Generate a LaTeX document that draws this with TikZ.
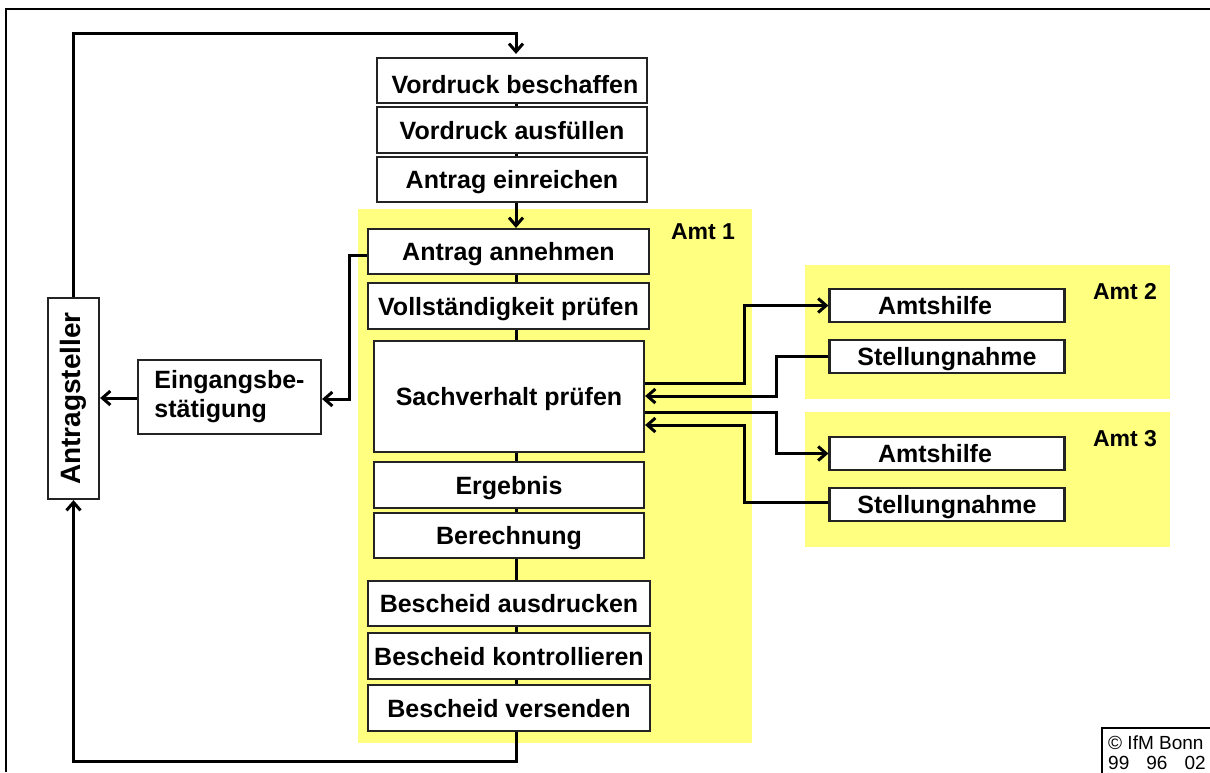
\documentclass[tikz,border=0pt]{standalone}
\usepackage{fontspec}
\setmainfont{Liberation Sans}
\usetikzlibrary{arrows.meta,calc}
\definecolor{amtyellow}{RGB}{255,255,128}
\definecolor{boxline}{RGB}{35,35,35}
\begin{document}
\begin{tikzpicture}[x=1pt,y=-1pt,
  box/.style={draw=boxline, line width=2.2pt, fill=white, inner sep=0pt,
    font=\bfseries\fontsize{25}{29}\selectfont},
  line1/.style={box, text height=18pt, text depth=0pt},
  wbox/.style={line1, minimum width=270pt, minimum height=45pt},
  nbox/.style={line1, minimum width=235pt, minimum height=33pt},
  conn/.style={line width=3pt, line join=miter},
  arr/.style={conn, -{Straight Barb[length=8pt,width=14pt]}},
  amt/.style={font=\bfseries\fontsize{23}{26}\selectfont, inner sep=0pt}
]
\path[use as bounding box, clip] (0,0) rectangle (1210,772);
\fill[white] (0,0) rectangle (1210,772);

% outer frame
\draw[line width=1.6pt] (6,772) -- (6,9) -- (1210,9);

% yellow office areas
\fill[amtyellow] (358,209) rectangle (752,743);
\fill[amtyellow] (805,265) rectangle (1170,399);
\fill[amtyellow] (805,412) rectangle (1170,547);
\node[amt] (amt1) at (703,232) {Amt 1};
\node[amt] (amt2) at (1125,292) {Amt 2};
\node[amt] (amt3) at (1125,439) {Amt 3};

% helper coordinates
\coordinate (spine) at (516,0);
\coordinate (top) at (0,33);
\coordinate (bot) at (0,761);
\coordinate (xa) at (744,0);
\coordinate (xb) at (776,0);
\coordinate (xc) at (349,0);

% main chain
\node[wbox] (vb) at (512,80.5) {\hspace*{6pt}\raisebox{-4pt}{Vordruck beschaffen}};
\node[wbox, minimum height=46pt] (va) at (512,130) {Vordruck ausfüllen};
\node[wbox] (ae) at (512,179.5) {Antrag einreichen};
\node[wbox, minimum width=281pt] (aa) at (508.5,251.5) {Antrag annehmen};
\node[wbox, minimum width=281pt, minimum height=46pt] (vp) at (508.5,306) {Vollständigkeit prüfen};
\node[wbox, minimum height=111pt] (sp) at (509,396.5) {Sachverhalt prüfen};
\node[wbox, minimum height=46pt] (erg) at (509,485) {Ergebnis};
\node[wbox] (ber) at (509,535.5) {Berechnung};
\node[wbox, minimum width=282pt] (bau) at (509,603.5) {Bescheid ausdrucken};
\node[wbox, minimum width=282pt, minimum height=46pt] (bko) at (509,656) {Bescheid kontrollieren};
\node[wbox, minimum width=282pt, minimum height=46pt] (bve) at (509,708) {Bescheid versenden};

% other offices
\node[nbox] (ah2) at (947,305.5) {\hspace*{-24pt}Amtshilfe};
\node[nbox] (st2) at (947,356.5) {Stellungnahme};
\node[nbox] (ah3) at (947,453.5) {\hspace*{-24pt}Amtshilfe};
\node[nbox] (st3) at (947,504.5) {Stellungnahme};

% applicant side
\node[box, minimum width=51pt, minimum height=201pt] (ant) at (73.5,398.5)
  {\rotatebox{90}{\fontsize{28}{32}\selectfont Antragsteller}};
\node[box, minimum width=183pt, minimum height=74pt, align=left]
  (eb) at (229.5,397) {Eingangsbe-\\stätigung};

% spine connectors
\draw[conn] (vb.south -| spine) -- (va.north -| spine);
\draw[conn] (va.south -| spine) -- (ae.north -| spine);
\draw[arr] (ae.south -| spine) -- (aa.north -| spine);
\draw[conn] (aa.south -| spine) -- (vp.north -| spine);
\draw[conn] (vp.south -| spine) -- (sp.north -| spine);
\draw[conn] (sp.south -| spine) -- (erg.north -| spine);
\draw[conn] (erg.south -| spine) -- (ber.north -| spine);
\draw[conn] (ber.south -| spine) -- (bau.north -| spine);
\draw[conn] (bau.south -| spine) -- (bko.north -| spine);
\draw[conn] (bko.south -| spine) -- (bve.north -| spine);

% loops to and from the applicant
\draw[arr, shorten >=3pt] (ant.north) -- (ant.north |- top) -- (spine |- top) -- (vb.north -| spine);
\draw[arr] (bve.south -| spine) -- (spine |- bot) -- (ant.south |- bot) -- (ant.south);

% acknowledgement
\draw[arr] ([yshift=-3.5pt]aa.west) -- ([yshift=-3.5pt]aa.west -| xc) |- ([yshift=-2pt]eb.east);
\draw[arr] ([yshift=-1pt]eb.west) -- ([yshift=-1pt]eb.west -| ant.east);

% assistance from other offices
\draw[arr] ([yshift=13.5pt]sp.east) -- ([yshift=13.5pt]sp.east -| xa) |- (ah2.west);
\draw[arr] (st2.west) -- (st2.west -| xb) |- ([yshift=0.5pt]sp.east);
\draw[arr] ([yshift=-15.5pt]sp.east) -- ([yshift=-15.5pt]sp.east -| xb) |- (ah3.west);
\draw[arr] ([yshift=2pt]st3.west) -- ([yshift=2pt]st3.west -| xa) |- ([yshift=-28.5pt]sp.east);

% copyright
\draw[line width=1.4pt] (1102,774) -- (1102,728) -- (1212,728);
\node[anchor=north west, inner sep=0pt, align=left,
  font=\fontsize{19}{20}\selectfont] (copy) at (1108,736) {© IfM Bonn\\99\hspace{0.9em}96\hspace{0.9em}02};
\end{tikzpicture}
\end{document}
